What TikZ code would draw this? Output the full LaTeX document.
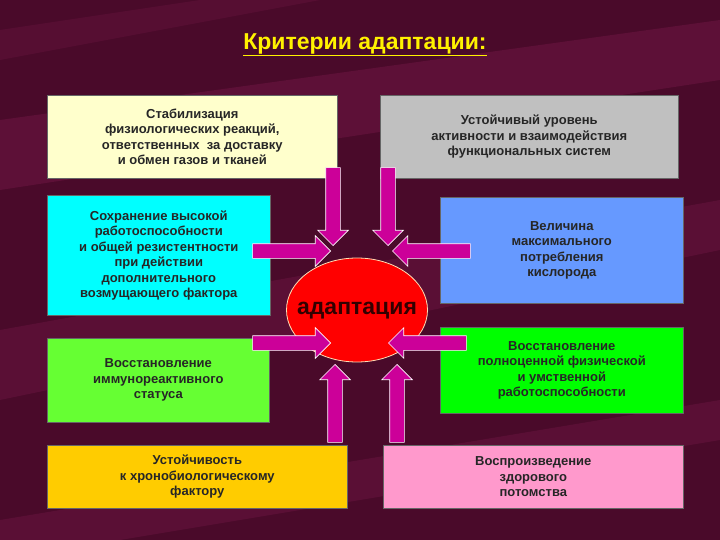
\documentclass[tikz,border=0pt]{standalone}
\usepackage{fontspec}
\setmainfont{Liberation Sans}
\usetikzlibrary{shapes.arrows,shapes.geometric}
\definecolor{bg}{HTML}{4A0A2A}
\definecolor{band}{HTML}{6A1440}
\definecolor{arr}{HTML}{CC0099}
\begin{document}
\begin{tikzpicture}[x=1pt,y=-1pt,
  box/.style={draw=black!60,line width=0.6pt,inner sep=0pt,align=center,font=\bfseries\fontsize{13}{15.5}\selectfont,anchor=north west,text=black!85},
  blk/.style={single arrow,draw=white,line width=0.6pt,fill=arr,minimum height=78,single arrow head extend=8,single arrow tip angle=90,inner sep=7pt,anchor=tip}]
\fill[bg] (0,0) rectangle (720,540);
\begin{scope}
\clip (0,0) rectangle (720,540);
\fill[band,opacity=0.6] (0,120) -- (720,20) -- (720,80) -- (0,190) -- cycle;
\fill[band,opacity=0.5] (0,330) -- (720,200) -- (720,250) -- (0,400) -- cycle;
\fill[band,opacity=0.5] (0,520) -- (720,400) -- (720,440) -- (0,560) -- cycle;
\fill[band,opacity=0.4] (200,0) -- (320,0) -- (0,60) -- (0,30) -- cycle;
\end{scope}
\useasboundingbox (0,0) rectangle (720,540);
\node[font=\bfseries\fontsize{23}{26}\selectfont,text=yellow] (title) at (365,45) {\underline{Критерии адаптации:}};

\node[box,fill={rgb,255:red,255;green,255;blue,204},minimum width=290,minimum height=83] (b1) at (47,95) {Стабилизация\\физиологических реакций,\\ответственных\ \ за доставку\\и обмен газов и тканей};
\node[box,fill={rgb,255:red,192;green,192;blue,192},minimum width=298,minimum height=83] (b2) at (380,95) {Устойчивый уровень\\активности и взаимодействия\\функциональных систем};
\node[box,fill={rgb,255:red,0;green,255;blue,255},minimum width=223,minimum height=120] (b3) at (47,195) {Сохранение высокой\\работоспособности\\и общей резистентности\\при действии\\дополнительного\\возмущающего фактора};
\node[box,fill={rgb,255:red,102;green,153;blue,255},minimum width=243,minimum height=106] (b4) at (440,197) {Величина\\максимального\\потребления\\кислорода};
\node[box,fill={rgb,255:red,102;green,255;blue,51},minimum width=222,minimum height=84] (b5) at (47,338) {Восстановление\\иммунореактивного\\статуса};
\node[box,fill={rgb,255:red,0;green,255;blue,0},minimum width=243,minimum height=86] (b6) at (440,327) {Восстановление\\полноценной физической\\и умственной\\работоспособности};
\node[box,fill={rgb,255:red,255;green,204;blue,0},minimum width=300,minimum height=63] (b7) at (47,445) {Устойчивость\\к хронобиологическому\\фактору};
\node[box,fill={rgb,255:red,255;green,153;blue,204},minimum width=300,minimum height=63] (b8) at (383,445) {Воспроизведение\\здорового\\потомства};

\node[ellipse,draw={rgb,255:red,255;green,220;blue,180},line width=0.8pt,fill=red,minimum width=141,minimum height=104] (ad) at (357,310) {};
\node[font=\bfseries\fontsize{23}{25}\selectfont,text={rgb,255:red,50;green,0;blue,0}] (adt) at (357,311) {адаптация};

\node[blk,rotate=-90] (a1) at (333,246) {};
\node[blk,rotate=-90] (a2) at (388,246) {};
\node[blk,rotate=0] (a3) at (331,251) {};
\node[blk,rotate=180] (a4) at (392,251) {};
\node[blk,rotate=0] (a5) at (331,343) {};
\node[blk,rotate=180] (a6) at (388,343) {};
\node[blk,rotate=90] (a7) at (335,364) {};
\node[blk,rotate=90] (a8) at (397,364) {};
\end{tikzpicture}
\end{document}
